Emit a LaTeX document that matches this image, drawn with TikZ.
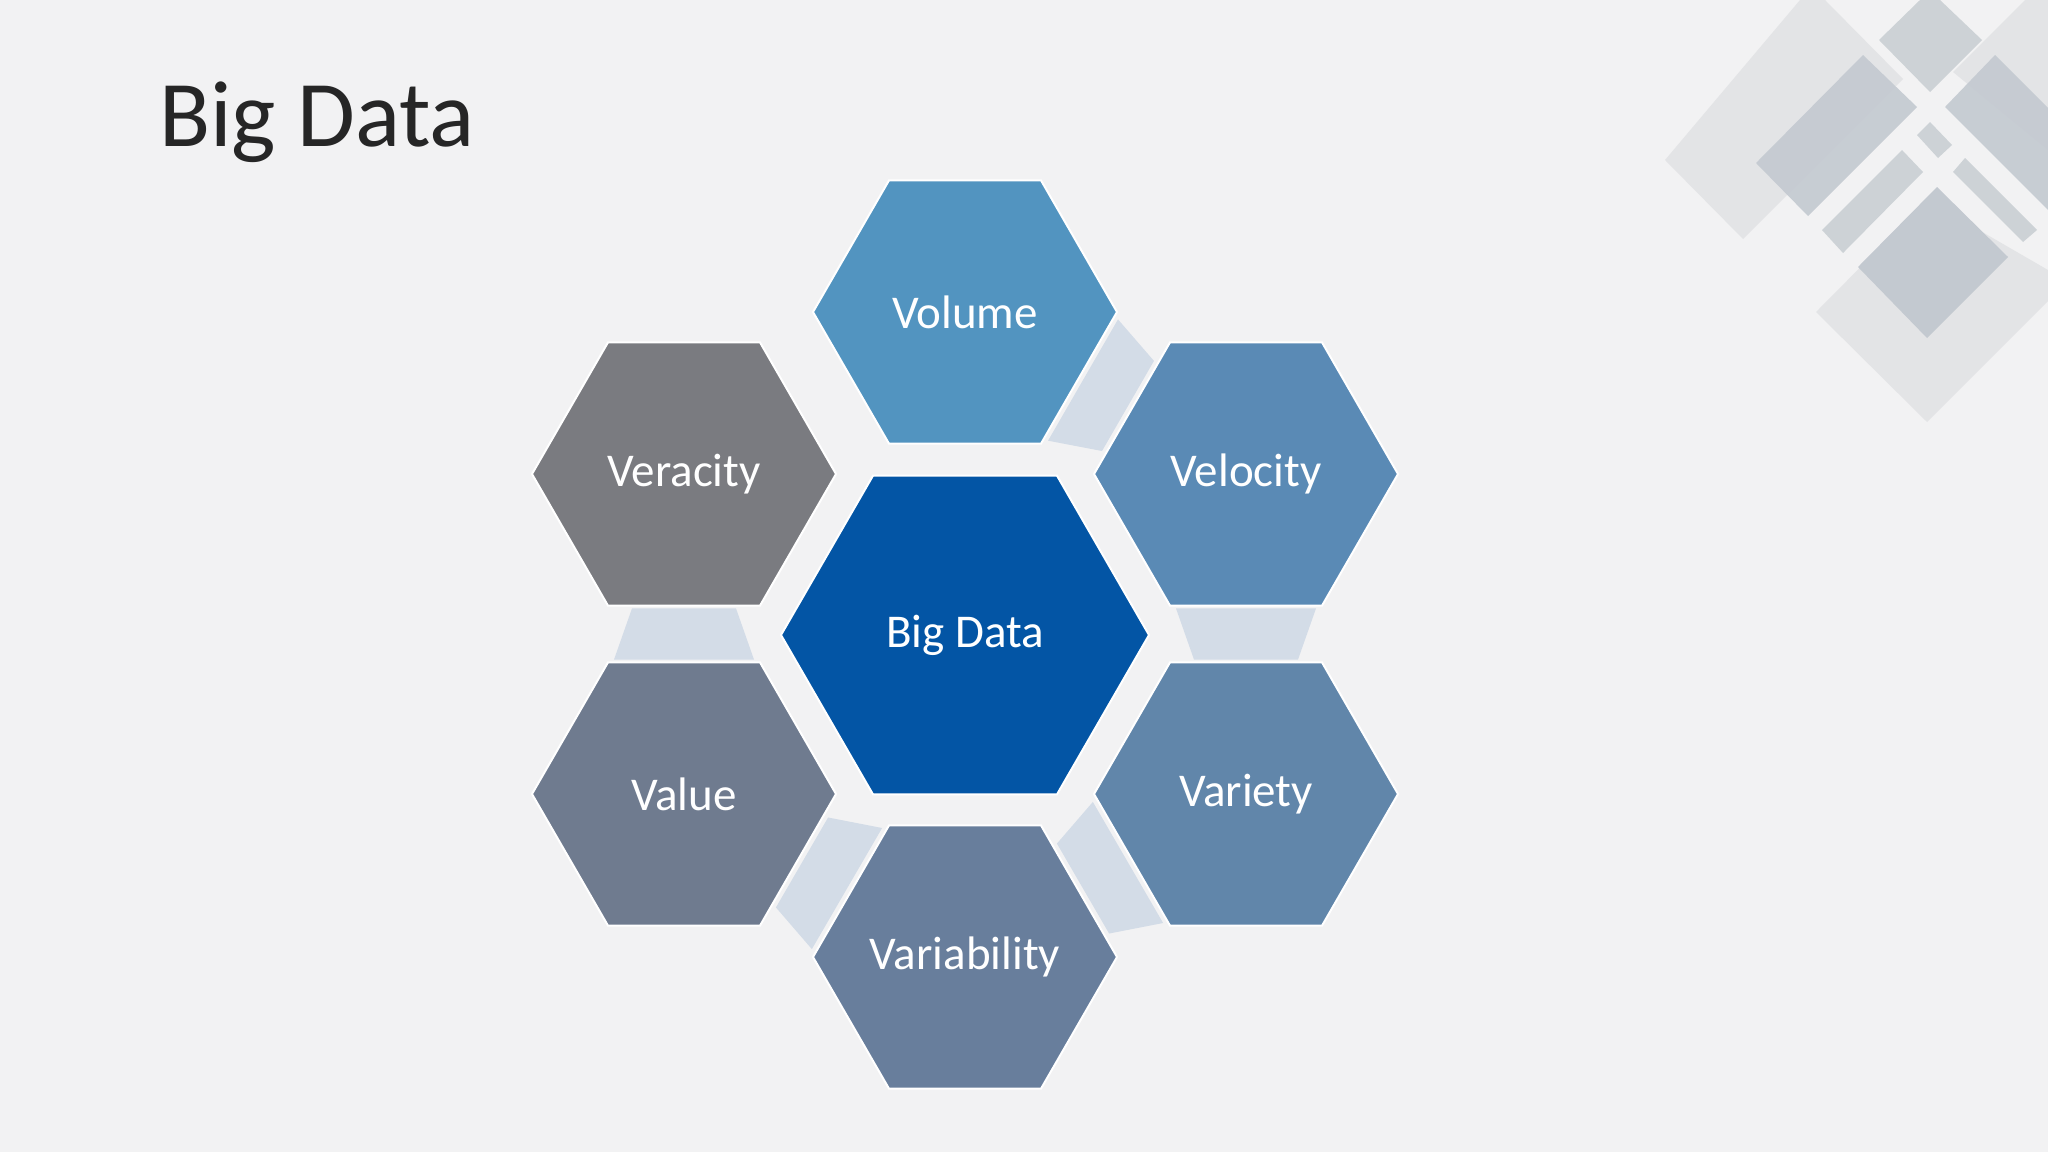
\documentclass[tikz,border=0pt]{standalone}
\usepackage{fontspec}
\setmainfont{Carlito}
\usetikzlibrary{calc}
\definecolor{bg}{HTML}{F2F2F3}
\definecolor{cVol}{HTML}{5294C0}
\definecolor{cVel}{HTML}{5A8AB5}
\definecolor{cVar}{HTML}{6186AA}
\definecolor{cVab}{HTML}{687E9C}
\definecolor{cVal}{HTML}{6F7B8F}
\definecolor{cVer}{HTML}{7A7B80}
\definecolor{cBig}{HTML}{0355A5}
\definecolor{link}{HTML}{D3DCE7}
\definecolor{dl}{HTML}{E3E4E6}
\definecolor{dm}{HTML}{CDD2D6}
\definecolor{dd}{HTML}{C3C9D0}
\begin{document}
\begin{tikzpicture}[x=1pt,y=-1pt,
  lbl/.style={text=white,font=\fontsize{47}{56}\selectfont,inner sep=0pt},
  hexfill/.style={draw=white,line width=2pt}]
\fill[bg] (0,0) rectangle (2048,1152);
\useasboundingbox (0,0) rectangle (2048,1152);
% decoration
\fill[dl] (1665,160)--(1743,239)--(1903,79)--(1825,0)--(1800,0)--cycle;
\fill[dl] (1953,72)--(2025,0)--(2048,0)--(2048,150)--cycle;
\fill[dl] (1816,312)--(1927,422)--(2048,301)--(2048,270)--(1927,200)--cycle;
\fill[dd,opacity=0.9] (1756,163)--(1808,216)--(1917,107)--(1863,55)--cycle;
\fill[dm] (1879,40)--(1930,92)--(1982,40)--(1940,0)--(1920,0)--cycle;
\fill[dd,opacity=0.9] (1945,107)--(1995,55)--(2048,108)--(2048,210)--cycle;
\fill[dm] (1917,135)--(1930,122)--(1952,145)--(1938,158)--cycle;
\fill[dm] (1822,230)--(1902,150)--(1923,172)--(1843,253)--cycle;
\fill[dm] (1953,172)--(1965,158)--(2037,230)--(2023,242)--cycle;
\fill[dd] (1858,267)--(1937,187)--(2008,257)--(1927,338)--cycle;
% title
\node[anchor=base west,inner sep=0pt,text=black!85,font=\fontsize{94}{104}\selectfont] (title) at (159,146) {Big Data};
% centers
\coordinate (vol) at (965,312);
\coordinate (vel) at (1246,474);
\coordinate (var) at (1246,794);
\coordinate (vab) at (965,957);
\coordinate (val) at (684,794);
\coordinate (ver) at (684,474);
\coordinate (big) at (965,635);
% links
\foreach \a/\b in {vol/vel,vel/var,var/vab,vab/val,val/ver}{
  \coordinate (p) at ($(\a)!0.42!(\b)$);
  \coordinate (q) at ($(\a)!0.58!(\b)$);
  \fill[link] ($(p)!70pt!90:(\b)$) -- ($(p)!70pt!-90:(\b)$) -- ($(q)!52pt!90:(\a)$) -- ($(q)!52pt!-90:(\a)$) -- cycle;
}
% hexagons
\foreach \c/\col/\r in {vol/cVol/152,vel/cVel/152,var/cVar/152,vab/cVab/152,val/cVal/152,ver/cVer/152,big/cBig/184}{
  \filldraw[hexfill,fill=\col] ($(\c)+(0:\r)$) -- ($(\c)+(60:\r)$) -- ($(\c)+(120:\r)$) -- ($(\c)+(180:\r)$) -- ($(\c)+(240:\r)$) -- ($(\c)+(300:\r)$) -- cycle;
}
\node[lbl] (tvol) at (vol) {Volume};
\node[lbl] (tvel) at (vel) {Velocity};
\node[lbl] (tvar) at (var) {Variety};
\node[lbl] (tvab) at (vab) {Variability};
\node[lbl] (tval) at (val) {Value};
\node[lbl] (tver) at (ver) {Veracity};
\node[lbl] (tbig) at (big) {Big Data};
\end{tikzpicture}
\end{document}
